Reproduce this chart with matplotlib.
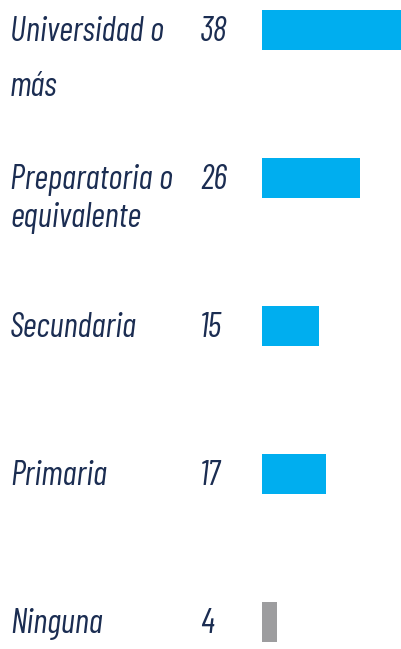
import matplotlib
matplotlib.use('Agg')
import matplotlib.pyplot as plt
import matplotlib.transforms as mtransforms

categories = ['Universidad o\nmás', 'Preparatoria o\nequivalente', 'Secundaria', 'Primaria', 'Ninguna']
values = [38, 26, 15, 17, 4]
colors = ['#00aeef', '#00aeef', '#00aeef', '#00aeef', '#9d9d9f']

navy = '#1b2d52'
font = ['Barlow Condensed', 'DejaVu Sans']
line_gap = [55, 38, 0, 0, 0]   # px between the two label lines

fig = plt.figure(figsize=(4.01, 6.49), dpi=100)
fig.patch.set_facecolor('white')

ax = fig.add_axes([262 / 401, 0, 139 / 401, 1])
ax.patch.set_alpha(0)
ypos = list(range(len(values)))
ax.barh(ypos, values, height=0.264, color=colors, zorder=2)
ax.set_xlim(0, 139 / 3.77)
ax.set_ylim((649 - 30) / 148, -30 / 148)
ax.axis('off')

trans = mtransforms.blended_transform_factory(fig.transFigure, ax.transData)
style = dict(transform=trans, ha='left', va='baseline', fontsize=24.5,
             style='italic', color=navy, family=font, clip_on=False)
for y, cat, v, gap in zip(ypos, categories, values, line_gap):
    base = y + 11 / 148
    for i, line in enumerate(cat.split('\n')):
        ax.text(10 / 401, base + i * gap / 148, line, **style)
    ax.text(200 / 401, base, str(v), **style)

plt.savefig('out.png', dpi=100)
